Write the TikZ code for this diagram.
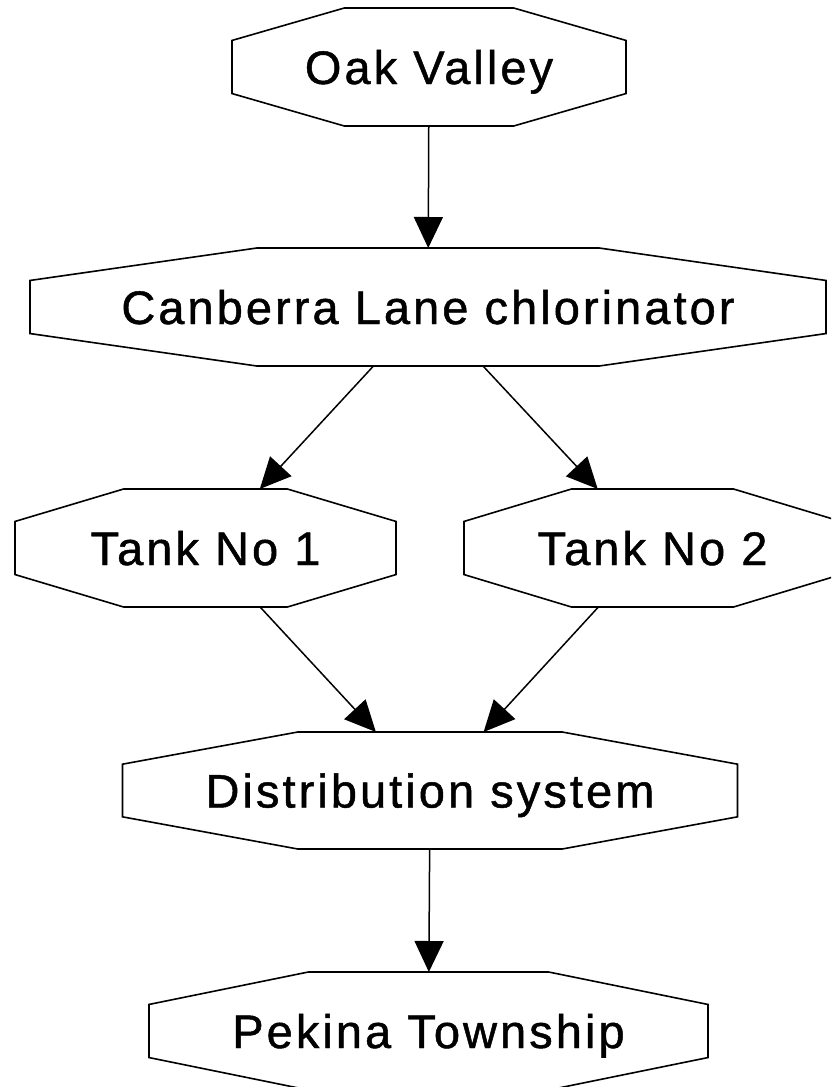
\documentclass[tikz,border=0pt]{standalone}
\usepackage{fontspec}
\setmainfont{Liberation Sans}[LetterSpace=6.5,FakeBold=1]
\usetikzlibrary{calc,arrows.meta}
\newcommand{\octframe}[1]{%
  \draw[octline] ($(#1.north)!0.43!(#1.north west)$) -- ($(#1.north)!0.43!(#1.north east)$)
    -- ($(#1.east)!0.45!(#1.north east)$) -- ($(#1.east)!0.45!(#1.south east)$)
    -- ($(#1.south)!0.43!(#1.south east)$) -- ($(#1.south)!0.43!(#1.south west)$)
    -- ($(#1.west)!0.45!(#1.south west)$) -- ($(#1.west)!0.45!(#1.north west)$) -- cycle;}
\tikzset{
  octnode/.style={inner sep=0pt, outer sep=0pt, text height=34pt, text depth=0pt,
    font=\fontsize{47}{54}\selectfont},
  octline/.style={draw=black, line width=1.6pt, line join=miter},
  flow/.style={draw=black, line width=1.5pt, -{Triangle[length=31pt,width=29pt]}}
}
\begin{document}
\begin{tikzpicture}[x=1pt,y=-1pt]
\useasboundingbox (0,0) rectangle (831,1087);
\clip (0,0) rectangle (831,1087);
\fill[white] (0,0) rectangle (831,1087);
\node[octnode, minimum width=394pt, minimum height=118pt] (oak) at (429,67) {Oak Valley};
\node[octnode, minimum width=796pt, minimum height=118pt] (can) at (428,307) {Canberra Lane chlorinator};
\node[octnode, minimum width=381pt, minimum height=118pt] (t1) at (205.5,548) {Tank No 1};
\node[octnode, minimum width=377pt, minimum height=118pt] (t2) at (652.5,548) {Tank No 2};
\node[octnode, minimum width=615pt, minimum height=117pt] (dist) at (430,790.5) {Distribution system};
\node[octnode, minimum width=559pt, minimum height=118pt] (pek) at (428.5,1031) {Pekina Township};
\octframe{oak}
\octframe{can}
\octframe{t1}
\octframe{t2}
\octframe{dist}
\octframe{pek}
\draw[flow] (oak) -- (can);
\draw[flow] (can) -- (t1);
\draw[flow] (can) -- (t2);
\draw[flow] (t1) -- (dist);
\draw[flow] (t2) -- (dist);
\draw[flow] (dist) -- (pek);
\end{tikzpicture}
\end{document}
